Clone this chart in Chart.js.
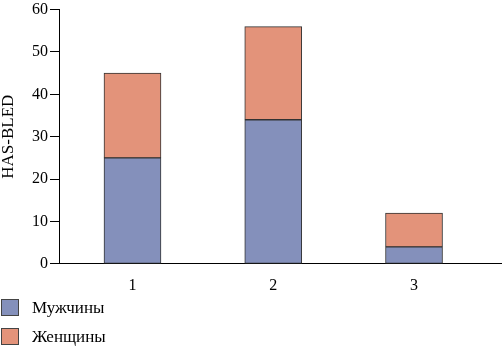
<!DOCTYPE html>
<html lang="ru">
<head>
  <meta charset="UTF-8" />
  <title>HAS-BLED</title>
  <script src="https://cdn.jsdelivr.net/npm/chart.js"></script>
  <style>
    body {
      margin: 0;
      background: #fff;
      font-family: "Liberation Serif", "Times New Roman", serif;
    }

    #wrap {
      width: 502px;
      height: 346px;
      position: relative;
      overflow: hidden;
    }

    .chart-box {
      width: 502px;
      height: 299px;
    }

    #legend {
      position: absolute;
      left: 1px;
      top: 293px;
    }

    .item {
      display: flex;
      align-items: center;
      height: 29px;
      font-size: 17px;
      color: #000;
    }

    .swatch {
      box-sizing: border-box;
      width: 18px;
      height: 17px;
      border: 1px solid #444;
      margin-right: 13px;
    }
  </style>
</head>
<body>
  <div id="wrap">
    <div class="chart-box"><canvas id="chart"></canvas></div>
    <div id="legend"></div>
  </div>

  <script>
    const groups = [1, 2, 3];
    const men = [25, 34, 4];
    const women = [20, 22, 8];
    const seriesNames = ["Мужчины", "Женщины"];
    const colors = ["#8490bb", "#e3937a"];

    const serif = "'Liberation Serif', 'Times New Roman', serif";

    const datasets = [men, women].map((vals, i) => ({
      label: seriesNames[i],
      data: vals.map((v, j) => ({ x: groups[j], y: v })),
      backgroundColor: colors[i],
      borderColor: "#333",
      borderWidth: 1,
      borderSkipped: false,
      barThickness: 57,
    }));

    new Chart(document.getElementById("chart"), {
      type: "bar",
      data: { datasets },
      options: {
        animation: false,
        responsive: true,
        maintainAspectRatio: false,
        layout: { padding: 0 },
        plugins: {
          legend: { display: false },
          tooltip: { enabled: false },
        },
        scales: {
          x: {
            type: "linear",
            stacked: true,
            offset: false,
            bounds: "data",
            min: 0.478,
            max: 3.625,
            afterBuildTicks: (axis) => {
              axis.ticks = groups.map((g) => ({ value: g }));
            },
            grid: { display: false },
            border: { display: true, color: "#000", width: 1 },
            ticks: {
              color: "#000",
              font: { family: serif, size: 16 },
              padding: 4,
            },
          },
          y: {
            stacked: true,
            min: 0,
            max: 60,
            ticks: {
              stepSize: 10,
              color: "#000",
              font: { family: serif, size: 16, lineHeight: 0.95 },
              padding: 2,
            },
            grid: {
              drawOnChartArea: false,
              drawTicks: true,
              tickLength: 9,
              color: "#000",
            },
            border: { display: true, color: "#000", width: 1 },
            title: {
              display: true,
              text: "HAS-BLED",
              color: "#000",
              font: { family: serif, size: 17, lineHeight: 1 },
              padding: { top: 0, bottom: 13 },
            },
          },
        },
      },
    });

    // legend stacked vertically under the plot
    const legend = document.getElementById("legend");
    seriesNames.forEach((name, i) => {
      const row = document.createElement("div");
      row.className = "item";
      row.innerHTML = `<span class="swatch" style="background:${colors[i]}"></span>${name}`;
      legend.appendChild(row);
    });
  </script>
</body>
</html>
